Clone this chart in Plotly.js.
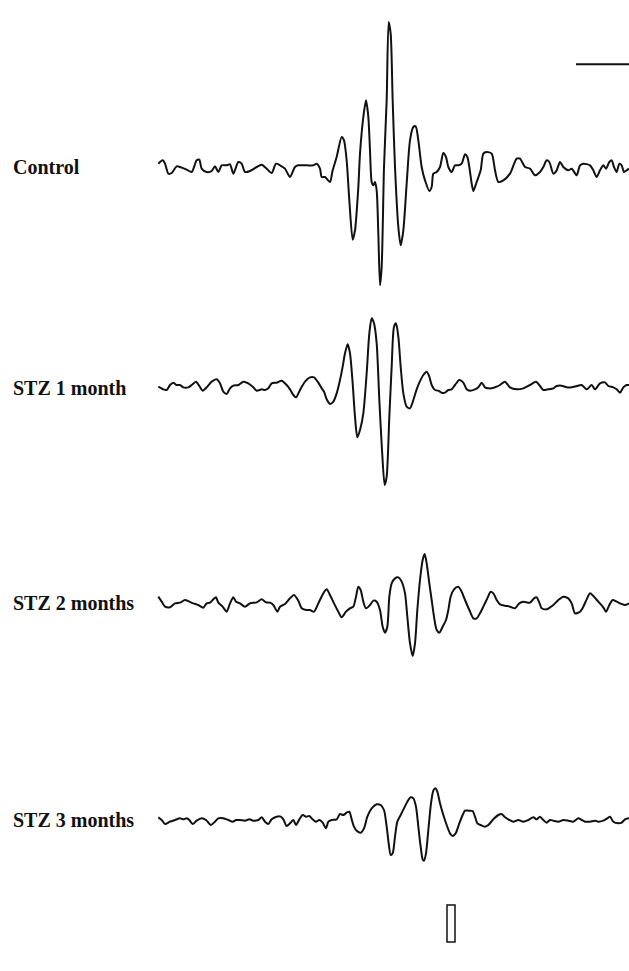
<!DOCTYPE html>
<html>
<head>
<meta charset="utf-8">
<script src="https://cdn.plot.ly/plotly-3.0.1.min.js"></script>
<style>html,body{margin:0;padding:0;background:#fff;}#chart{width:629px;height:971px;}</style>
</head>
<body>
<div id="chart"></div>
<script>
// Labels of the four recordings
const labels = ["Control", "STZ 1 month", "STZ 2 months", "STZ 3 months"];

// Control trace (time in arbitrary units, amplitude in arbitrary units)
const controlTime = [25,38,45,55,65,80,95,110,125,140,148,155,170,185,195,205,215,230,240,250,265,275,285,300,320,335,350,365,378,390,405,420,435,445,470,490,500,510,515,525,530,540,548,560,575,582,590,598,608,615,625,630,640,648,655,660,665,670,675,680,685,690,695,702,710,716,722,728,735,745,752,760,770,780,790,797,805,815,825,838,845,850,860,870,880,888,895,905,915,925,935,945,952,958,965,970,980,992,1000,1010,1025,1035,1045,1060,1080,1100,1110,1125,1140,1155,1170,1180,1190,1198,1210,1220,1230,1240,1255,1265,1280,1290,1300,1320,1330,1340,1350,1360,1368,1378,1385,1392,1400,1408,1415,1422,1430,1437];
const controlAmp = [10,20,10,-20,-18,2,-2,-8,-15,20,22,-5,-15,-12,2,-15,5,5,8,-20,15,10,-15,-12,0,7,-5,-18,10,5,-5,-30,0,5,5,5,10,-5,-30,-30,-35,-45,-10,30,90,80,20,-100,-218,-190,-60,40,150,200,150,50,-45,-55,-45,-70,-200,-355,-300,0,200,435,400,200,0,-180,-235,-190,-50,80,120,122,80,0,-40,-72,-60,-20,-15,0,42,30,0,-15,5,5,10,38,30,0,-50,-72,-45,-10,40,45,40,-10,-45,-40,-20,25,25,0,-5,-25,-15,0,20,15,-20,-10,15,0,-10,-5,-25,5,10,5,-10,-30,-10,5,-5,15,20,0,-15,10,5,-15,-10,-5];

// STZ 1 month
const stz1Time = [25,40,50,60,70,80,90,100,115,125,138,148,158,170,185,200,210,220,230,240,250,265,280,295,310,320,335,345,355,365,380,395,410,420,430,438,450,465,480,492,505,515,522,530,540,550,560,570,578,585,593,600,608,615,622,630,640,650,658,665,672,680,688,696,704,710,718,725,732,738,745,752,760,770,780,790,800,808,820,830,838,845,855,865,875,885,895,905,915,928,940,950,960,975,985,995,1005,1015,1025,1040,1050,1065,1080,1100,1120,1140,1158,1170,1180,1195,1210,1220,1235,1250,1265,1280,1295,1310,1325,1335,1350,1365,1375,1390,1400,1410,1420,1430,1437];
const stz1Amp = [5,-3,-5,10,17,10,10,3,3,10,20,7,-7,3,20,27,15,-10,-17,0,8,10,20,15,3,-7,-3,-5,0,15,17,23,10,-3,-20,-27,-5,20,33,33,17,0,-10,-33,-47,-40,-15,25,65,105,132,105,15,-85,-147,-125,-75,45,165,210,195,135,-35,-185,-290,-265,-85,65,185,195,155,65,-15,-55,-60,-35,-3,17,40,50,35,10,-5,-7,-13,-13,-5,-3,10,25,17,-3,-7,-3,3,17,3,0,0,5,10,20,3,-3,0,10,20,7,-5,-3,0,7,8,3,3,7,10,-3,10,-3,15,18,7,3,-3,-13,3,10,10];

// STZ 2 months
const stz2Time = [25,35,45,60,75,90,105,118,130,145,160,170,180,190,198,205,218,230,240,250,258,270,285,300,320,335,348,360,370,382,390,405,420,432,445,455,468,480,492,505,520,530,540,552,565,575,588,600,610,618,625,632,640,648,660,670,680,690,698,705,712,718,725,735,745,755,765,772,780,788,795,802,810,818,824,830,838,845,852,860,868,878,888,895,902,912,925,935,945,958,970,980,990,1000,1012,1022,1030,1040,1050,1065,1080,1095,1108,1120,1140,1152,1160,1168,1175,1190,1200,1210,1225,1240,1255,1265,1275,1290,1300,1310,1320,1330,1345,1360,1368,1378,1388,1400,1415,1425,1437];
const stz2Amp = [20,5,-10,-12,0,2,10,5,0,-5,-13,0,2,12,18,2,-10,-25,0,18,5,0,-10,0,3,12,3,2,-5,-25,-10,-2,15,25,8,-15,-20,-20,-25,0,30,42,25,0,-25,-42,-25,-15,-10,20,50,40,5,-15,-5,8,5,-20,-70,-88,-70,20,60,75,78,65,30,-40,-120,-158,-120,-20,70,130,148,120,60,10,-40,-80,-88,-70,-50,-20,20,42,50,35,10,-20,-45,-45,-30,-10,15,35,30,10,-3,-7,-10,-15,0,5,2,15,18,2,-15,-18,-12,-5,10,20,15,0,-30,-25,-10,12,30,22,5,-12,-25,-5,10,5,-2,-5,0];

// STZ 3 months
const stz3Time = [25,35,45,60,75,90,100,110,118,128,140,155,168,182,195,205,220,235,248,258,270,285,298,310,325,335,345,355,365,380,392,400,410,420,430,438,448,458,468,478,488,498,508,518,528,535,545,560,570,580,590,598,605,612,620,632,642,652,665,680,692,702,710,716,722,728,735,742,752,762,772,782,790,798,805,812,818,822,828,835,843,850,856,862,870,880,890,900,908,918,928,938,945,955,968,975,982,992,1005,1015,1030,1045,1055,1065,1078,1090,1105,1120,1135,1150,1160,1170,1180,1190,1200,1210,1225,1240,1255,1270,1285,1295,1305,1320,1335,1345,1360,1372,1380,1390,1405,1415,1425,1437];
const stz3Amp = [8,0,-12,-5,0,5,2,5,0,-12,-2,5,0,-15,-5,5,5,0,-5,0,0,-2,2,-2,0,8,-5,-12,2,10,10,2,-18,-10,0,-15,2,15,10,12,2,-5,0,-8,-25,-5,0,2,18,15,22,25,2,-20,-32,-38,-25,10,35,47,45,30,-20,-70,-105,-100,-50,-5,15,35,55,68,65,40,-20,-80,-118,-122,-100,-30,50,88,95,85,50,15,-15,-40,-48,-38,-10,15,28,28,27,10,-10,-15,-20,-15,2,15,18,8,0,-5,0,-5,0,8,2,10,0,-8,0,-2,-5,0,-2,-5,5,0,-5,-5,-2,-5,-2,5,10,-5,-10,-8,2,5];

const times = [controlTime, stz1Time, stz2Time, stz3Time];
const amps = [controlAmp, stz1Amp, stz2Amp, stz3Amp];

// vertical placement of each recording (layout)
const offsets = [0, -664, -1309, -1959];
// time scale bar
const scaleBarTime = [1278, 1440];
const scaleBarLevel = 308;
// amplitude calibration box
const calBoxTime = [891, 915];
const calBoxLevel = [-2325, -2214];

const traces = amps.map((a, i) => ({
  type: 'scatter', mode: 'lines',
  x: times[i],
  y: a.map(v => v + offsets[i]),
  line: {color: '#111', width: 2, shape: 'spline', smoothing: 0.7},
  hoverinfo: 'skip', showlegend: false
}));

const annotations = labels.map((t, i) => ({
  text: '<b>' + t + '</b>', xref: 'paper', yref: 'y', x: 11/629, y: offsets[i],
  xanchor: 'left', yanchor: 'middle', showarrow: false,
  font: {family: 'Liberation Serif, Times New Roman, serif', size: 20, color: '#111'}
}));

const layout = {
  width: 629, height: 971,
  margin: {l: 0, r: 0, t: 0, b: 0},
  paper_bgcolor: '#fff', plot_bgcolor: '#fff',
  xaxis: {range: [-450, 1437], visible: false, fixedrange: true},
  yaxis: {range: [-2412, 501], visible: false, fixedrange: true},
  annotations: annotations,
  shapes: [
    {type: 'line', xref: 'x', yref: 'y', x0: scaleBarTime[0], x1: scaleBarTime[1], y0: scaleBarLevel, y1: scaleBarLevel,
     line: {color: '#111', width: 2}},
    {type: 'rect', xref: 'x', yref: 'y', x0: calBoxTime[0], x1: calBoxTime[1], y0: calBoxLevel[0], y1: calBoxLevel[1],
     line: {color: '#111', width: 1.5}, fillcolor: 'rgba(0,0,0,0)'}
  ]
};

Plotly.newPlot('chart', traces, layout, {displayModeBar: false, staticPlot: true});
</script>
</body>
</html>
